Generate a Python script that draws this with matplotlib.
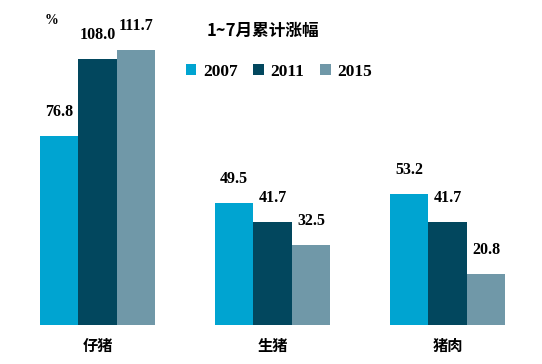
import matplotlib
matplotlib.use('Agg')
import matplotlib.pyplot as plt
import numpy as np

categories = ['仔猪', '生猪', '猪肉']
years = ['2007', '2011', '2015']
v2007 = [76.8, 49.5, 53.2]
v2011 = [108.0, 41.7, 41.7]
v2015 = [111.7, 32.5, 20.8]
colors = ['#00A4D1', '#02475E', '#7098A8']

cjk = ['Noto Sans CJK SC', 'DejaVu Sans']
num = ['Liberation Serif', 'DejaVu Serif']

fig = plt.figure(figsize=(5.42, 3.64), dpi=100)
ax = fig.add_axes([0, 39 / 364, 1, 286 / 364])

x = np.arange(len(categories))
w = 0.22
series = [v2007, v2011, v2015]
for i, (vals, yr) in enumerate(zip(series, years)):
    pos = x + (i - 1) * w
    ax.bar(pos, vals, width=w, color=colors[i], label=yr, edgecolor='none')
    for px, v in zip(pos, vals):
        ax.text(px, v + 6.5, f"{v:.1f}", ha='center', va='bottom',
                fontsize=11.5, fontweight='bold', family=num)

ax.set_xlim(-97.5 / 175, (542 - 97.5) / 175)
ax.set_ylim(0, 286 / 2.462)
ax.axis('off')

for xi, c in zip(x, categories):
    fig.text((97.5 + xi * 175) / 542, 18 / 364, c, ha='center', va='center',
             fontsize=11, fontweight='bold', family=cjk)

fig.text(52 / 542, 1 - 20 / 364, '%', ha='center', va='center',
         fontsize=10, fontweight='bold', family=num)
fig.text(263 / 542, 1 - 31 / 364, '1~7月累计涨幅', ha='center', va='center',
         fontsize=12, fontweight='bold', family=cjk)

leg = fig.legend(loc='center left', bbox_to_anchor=(170 / 542, 1 - 72 / 364),
                 ncol=3, frameon=False, handlelength=0.6, handleheight=0.6,
                 handletextpad=0.4, columnspacing=0.9,
                 prop={'family': num, 'size': 12.5, 'weight': 'bold'})

fig.savefig('out.png', dpi=100)
